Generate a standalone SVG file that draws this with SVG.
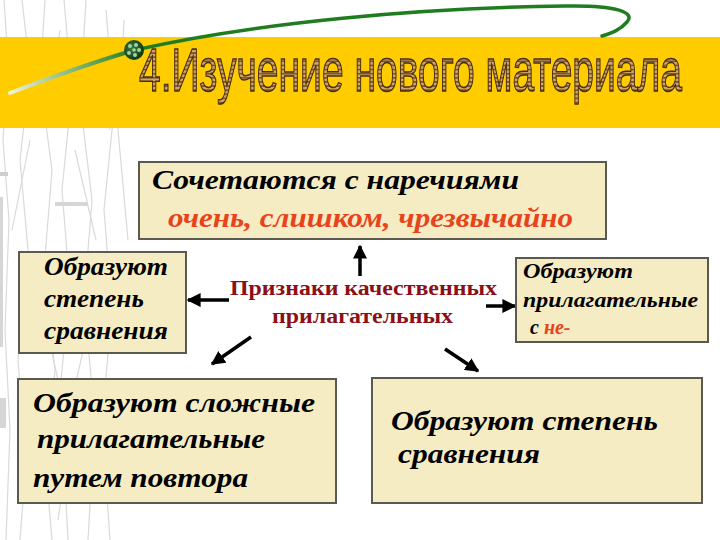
<svg xmlns="http://www.w3.org/2000/svg" width="720" height="540" viewBox="0 0 720 540">
<defs>
<style>
.box{fill:#F5ECC4;stroke:#5a5a50;stroke-width:2}
.bt{font-family:"Liberation Serif","Times New Roman",serif;font-weight:bold;font-style:italic;fill:#000}
.red{fill:#E8441C}
.ct{font-family:"Liberation Serif","Times New Roman",serif;font-weight:bold;fill:#8B1016;font-size:20px}
.conn{stroke:#000;stroke-width:3.5;fill:none;marker-end:url(#ah)}
.grass{stroke:#dadada;stroke-width:1.2;fill:none}
</style>
<marker id="ah" viewBox="0 0 10 10" refX="9" refY="5" markerWidth="4" markerHeight="4" orient="auto" markerUnits="strokeWidth">
<path d="M0,0 L10,5 L0,10 z" fill="#000"/>
</marker>
<pattern id="wood" width="8" height="2.5" patternUnits="userSpaceOnUse">
<rect width="8" height="2.5" fill="#CFA66A"/>
<rect y="1.5" width="8" height="1" fill="#7C5630"/>
</pattern>
<linearGradient id="tail" gradientUnits="userSpaceOnUse" x1="10" y1="93" x2="135" y2="50">
<stop offset="0" stop-color="#eef4d0"/>
<stop offset="1" stop-color="#1f7d1f"/>
</linearGradient>
<radialGradient id="ball" cx="0.4" cy="0.4" r="0.6">
<stop offset="0" stop-color="#3c7a3c"/>
<stop offset="1" stop-color="#0f3a12"/>
</radialGradient>
</defs>
<rect width="720" height="540" fill="#fff"/>
<g id="grass">
<path class="grass" d="M4,0 L8,60 L3,140 L9,220 L5,330 L10,430 L6,540"/>
<path class="grass" d="M22,0 L30,70 L20,160 L28,250 L18,360 L26,460 L20,540"/>
<path class="grass" d="M45,0 L40,80 L52,170 L44,270 L55,370 L46,470 L52,540"/>
<path class="grass" d="M64,0 L72,90 L62,190 L70,290 L60,390 L68,540"/>
<path class="grass" d="M86,0 L80,100 L92,200 L84,300 L95,420 L88,540"/>
<path class="grass" d="M106,10 L114,110 L104,210 L112,310 L102,420 L110,540"/>
<path class="grass" d="M124,20 L118,130 L128,240"/>
<path class="grass" d="M15,40 L35,120 M60,30 L48,110 M95,40 L110,130 M30,140 L12,230 M75,150 L96,240 M40,300 L58,380 M90,320 L72,400 M20,420 L38,500 M70,440 L58,520"/>
<rect x="0" y="172" width="8" height="4" fill="#cfcfcf"/>
<rect x="55" y="202" width="33" height="4" fill="#d6d6d6"/>
<rect x="0" y="197" width="3" height="150" fill="#d6d6d6"/>
<rect x="0" y="398" width="6" height="30" fill="#d6d6d6"/>
</g>
<g id="title">
<rect x="0" y="37" width="720" height="91" fill="#FFCC00"/>
<path d="M10,93 C60,74 100,60 135,50" stroke="url(#tail)" stroke-width="4" fill="none" stroke-linecap="round"/>
<path d="M135,50 C260,22 420,8 565,6 C615,5 636,12 627,22 C620,30 612,33 602,36" stroke="#1f7d1f" stroke-width="3.5" fill="none" stroke-linecap="round"/>
<text transform="translate(139,91) scale(1,1.65)" x="0" y="0" font-family="'Liberation Sans',Arial,sans-serif" font-size="37" textLength="543" lengthAdjust="spacingAndGlyphs" fill="url(#wood)" stroke="#4a2c0e" stroke-width="0.9">4.Изучение нового материала</text>
<circle cx="134" cy="50" r="10" fill="url(#ball)"/>
<g fill="#9fd49f">
<circle cx="130" cy="46" r="2"/><circle cx="136" cy="45" r="2"/><circle cx="139" cy="50" r="2"/>
<circle cx="135" cy="55" r="2"/><circle cx="129" cy="53" r="2"/><circle cx="134" cy="50" r="1.8"/>
</g>
</g>
<g id="connectors">
<line class="conn" x1="360" y1="276" x2="360" y2="246"/>
<line class="conn" x1="229" y1="300" x2="188" y2="300"/>
<line class="conn" x1="486" y1="306" x2="515" y2="306"/>
<line class="conn" x1="251" y1="337" x2="212" y2="364"/>
<line class="conn" x1="445" y1="349" x2="478" y2="371"/>
</g>
<g id="center">
<text class="ct" x="230" y="295" textLength="267" lengthAdjust="spacingAndGlyphs">Признаки качественных</text>
<text class="ct" x="272" y="323" textLength="181" lengthAdjust="spacingAndGlyphs">прилагательных</text>
</g>
<g id="top">
<rect class="box" x="139" y="162" width="467" height="77"/>
<text class="bt" x="152" y="189" font-size="27" textLength="367" lengthAdjust="spacingAndGlyphs">Сочетаются с наречиями</text>
<text class="bt red" x="168" y="227" font-size="27" textLength="405" lengthAdjust="spacingAndGlyphs">очень, слишком, чрезвычайно</text>
</g>
<g id="left">
<rect class="box" x="19" y="252" width="167" height="101"/>
<text class="bt" x="44" y="275" font-size="25" textLength="124" lengthAdjust="spacingAndGlyphs">Образуют</text>
<text class="bt" x="44" y="307" font-size="25" textLength="100" lengthAdjust="spacingAndGlyphs">степень</text>
<text class="bt" x="44" y="339" font-size="25" textLength="124" lengthAdjust="spacingAndGlyphs">сравнения</text>
</g>
<g id="right">
<rect class="box" x="516" y="258" width="192" height="84"/>
<text class="bt" x="523" y="278" font-size="20" textLength="110" lengthAdjust="spacingAndGlyphs">Образуют</text>
<text class="bt" x="523" y="307" font-size="20" textLength="175" lengthAdjust="spacingAndGlyphs">прилагательные</text>
<text class="bt" x="530" y="334" font-size="20">с <tspan class="red">не-</tspan></text>
</g>
<g id="bottom-left">
<rect class="box" x="18" y="379" width="318" height="124"/>
<text class="bt" x="33" y="412" font-size="28" textLength="282" lengthAdjust="spacingAndGlyphs">Образуют сложные</text>
<text class="bt" x="37" y="448" font-size="28" textLength="228" lengthAdjust="spacingAndGlyphs">прилагательные</text>
<text class="bt" x="33" y="487" font-size="28" textLength="215" lengthAdjust="spacingAndGlyphs">путем повтора</text>
</g>
<g id="bottom-right">
<rect class="box" x="372" y="378" width="330" height="125"/>
<text class="bt" x="391" y="430" font-size="28" textLength="267" lengthAdjust="spacingAndGlyphs">Образуют степень</text>
<text class="bt" x="398" y="463" font-size="28" textLength="142" lengthAdjust="spacingAndGlyphs">сравнения</text>
</g>
</svg>
